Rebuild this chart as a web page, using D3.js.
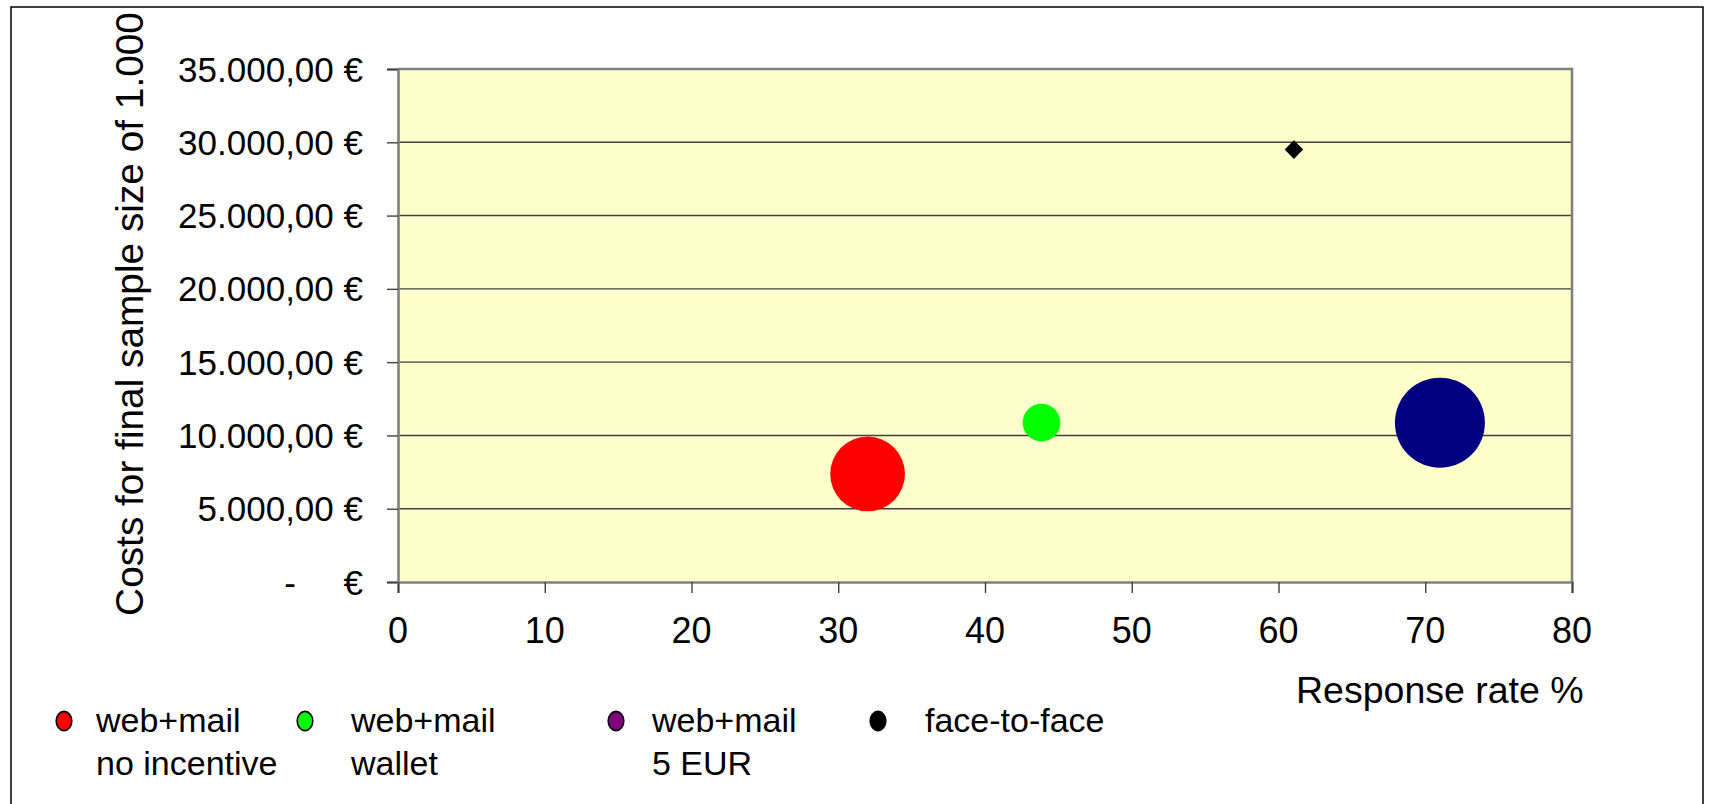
<!DOCTYPE html>
<html>
<head>
<meta charset="utf-8">
<script src="https://cdn.jsdelivr.net/npm/d3@7"></script>
<style>
  html, body { margin: 0; padding: 0; background: #fff; }
  svg { display: block; }
  text { font-family: "Liberation Sans", Arial, sans-serif; fill: #000; }
</style>
</head>
<body>
<svg id="chart" width="1710" height="804"></svg>
<script>
// Survey modes: response rate (%) vs. cost for a final sample of 1.000
const seriesNames   = ["web+mail\nno incentive", "web+mail\nwallet", "web+mail\n5 EUR", "face-to-face"];
const legendColors  = ["#ff0000", "#00ff00", "#800080", "#000000"];
const markColors    = ["#ff0000", "#00ff00", "#000080", "#000000"];
const responseRate  = [32.0, 43.85, 71.0, 61.05];
const costs         = [7370, 10870, 10870, 29500];
const bubbleSize    = [69, 17.5, 100, null];   // null: drawn as a plain diamond marker
const xTicks        = [0, 10, 20, 30, 40, 50, 60, 70, 80];
const yTicks        = [0, 5000, 10000, 15000, 20000, 25000, 30000, 35000];

const svg = d3.select("#chart");

// outer chart frame
svg.append("rect")
  .attr("x", 11).attr("y", 7).attr("width", 1692).attr("height", 800)
  .attr("fill", "#fff").attr("stroke", "#000").attr("stroke-width", 1.5);

const plot = { left: 398, right: 1572, top: 69, bottom: 582 };

const x = d3.scaleLinear().domain([0, 80]).range([plot.left, plot.right]);
const y = d3.scaleLinear().domain([0, 35000]).range([plot.bottom, plot.top]);
const r = d3.scaleSqrt().domain([0, 100]).range([0, 45]);

const euro = d3.formatLocale({ decimal: ",", thousands: ".", grouping: [3], currency: ["", " €"] });
const fmt = euro.format(",.2f");

// plot background
svg.append("rect")
  .attr("x", plot.left).attr("y", plot.top)
  .attr("width", plot.right - plot.left).attr("height", plot.bottom - plot.top)
  .attr("fill", "#ffffcc");

// horizontal gridlines
svg.append("g")
  .selectAll("line")
  .data(yTicks.filter(d => d > 0 && d < 35000))
  .join("line")
  .attr("x1", plot.left).attr("x2", plot.right)
  .attr("y1", d => y(d)).attr("y2", d => y(d))
  .attr("stroke", "#404040").attr("stroke-width", 1.4);

// plot border (top / right)
svg.append("path")
  .attr("d", `M${plot.left},${plot.top}H${plot.right}V${plot.bottom}`)
  .attr("fill", "none").attr("stroke", "#808080").attr("stroke-width", 2.6);

// y axis
const yAxis = svg.append("g").attr("transform", `translate(${plot.left},0)`)
  .call(d3.axisLeft(y).tickValues(yTicks).tickSize(11).tickFormat(""));
yAxis.select(".domain").attr("stroke", "#808080").attr("stroke-width", 2.6);
yAxis.selectAll(".tick line").attr("stroke", "#404040").attr("stroke-width", 1.4);

const yLab = svg.append("g").attr("font-size", 35);
yLab.selectAll("text.ylab")
  .data(yTicks.filter(d => d > 0))
  .join("text")
  .attr("class", "ylab")
  .attr("x", 363).attr("y", d => y(d)).attr("dy", "0.36em")
  .attr("text-anchor", "end")
  .text(d => fmt(d) + " €");
// zero label in accounting style
yLab.append("text").attr("x", 363).attr("y", y(0)).attr("dy", "0.36em")
  .attr("text-anchor", "end").text("€");
yLab.append("text").attr("x", 290).attr("y", y(0)).attr("dy", "0.36em")
  .attr("text-anchor", "middle").text("-");

// x axis
const xAxis = svg.append("g").attr("transform", `translate(0,${plot.bottom})`)
  .call(d3.axisBottom(x).tickValues(xTicks).tickSize(11).tickFormat(""));
xAxis.select(".domain").attr("stroke", "#808080").attr("stroke-width", 2.6);
xAxis.selectAll(".tick line").attr("stroke", "#404040").attr("stroke-width", 1.4);

svg.append("g").attr("font-size", 36)
  .selectAll("text")
  .data(xTicks)
  .join("text")
  .attr("x", d => x(d)).attr("y", 643)
  .attr("text-anchor", "middle")
  .text(d => d);

// axis titles
svg.append("text")
  .attr("transform", "translate(143,314) rotate(-90)")
  .attr("text-anchor", "middle").attr("font-size", 38.8)
  .text("Costs for final sample size of 1.000");

svg.append("text")
  .attr("x", 1296).attr("y", 703).attr("font-size", 37.5)
  .text("Response rate %");

// data marks
const pts = responseRate.map((v, i) => ({ x: v, y: costs[i], s: bubbleSize[i], c: markColors[i] }));

svg.append("g")
  .selectAll("circle")
  .data(pts.filter(d => d.s != null))
  .join("circle")
  .attr("cx", d => x(d.x)).attr("cy", d => y(d.y))
  .attr("r", d => r(d.s))
  .attr("fill", d => d.c);

svg.append("g")
  .selectAll("path")
  .data(pts.filter(d => d.s == null))
  .join("path")
  .attr("transform", d => `translate(${x(d.x)},${y(d.y)}) rotate(45)`)
  .attr("d", d3.symbol(d3.symbolSquare, 172))
  .attr("fill", d => d.c);

// legend
const legendX = [64, 305, 616, 878];
const legend = svg.append("g").attr("font-size", 34);
seriesNames.forEach((name, i) => {
  const g = legend.append("g");
  g.append("ellipse")
    .attr("cx", legendX[i]).attr("cy", 721).attr("rx", 7.8).attr("ry", 9.6)
    .attr("fill", legendColors[i]).attr("stroke", "#000").attr("stroke-width", 1.6);
  name.split("\n").forEach((line, j) => {
    g.append("text")
      .attr("x", legendX[i] + (i === 3 ? 47 : 32 + (i === 1 ? 14 : i === 2 ? 4 : 0)))
      .attr("y", 732 + j * 43)
      .text(line);
  });
});
</script>
</body>
</html>
